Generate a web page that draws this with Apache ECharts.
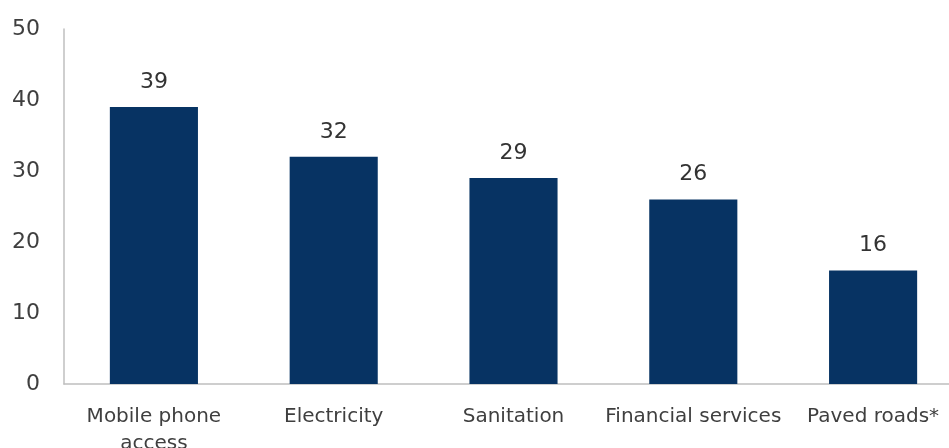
<!DOCTYPE html>
<html><head><meta charset="utf-8">
<script src="https://cdn.jsdelivr.net/npm/echarts@6/dist/echarts.min.js"></script>
<style>html,body{margin:0;padding:0;background:#fff}#c{width:949px;height:448px}</style>
</head><body><div id="c"></div>
<script>
var categories = ['Mobile phone\naccess', 'Electricity', 'Sanitation', 'Financial services', 'Paved roads*'];
var values = [39, 32, 29, 26, 16];
var yTicks = {min: 0, max: 50, interval: 10};

var chart = echarts.init(document.getElementById('c'));
chart.setOption({
  animation: false,
  grid: {left: 64, right: -14, top: 29, bottom: 64, containLabel: false, outerBoundsMode: 'none'},
  xAxis: {
    type: 'category', data: categories,
    axisLine: {lineStyle: {color: '#bfbfbf', width: 1.5}},
    axisTick: {show: false},
    axisLabel: {color: '#3f3f3f', fontSize: 20, fontFamily: 'DejaVu Sans', margin: 19, lineHeight: 27, interval: 0}
  },
  yAxis: {
    type: 'value', min: yTicks.min, max: yTicks.max, interval: yTicks.interval,
    axisLine: {show: true, lineStyle: {color: '#bfbfbf', width: 1.5}},
    axisTick: {show: false},
    splitLine: {show: false},
    axisLabel: {color: '#3f3f3f', fontSize: 22, fontFamily: 'DejaVu Sans', margin: 24}
  },
  series: [{
    type: 'bar', data: values, barWidth: '49%',
    itemStyle: {color: '#073363'},
    label: {show: true, position: 'top', distance: 14, color: '#333', fontSize: 22, fontFamily: 'DejaVu Sans'}
  }]
});
</script></body></html>
